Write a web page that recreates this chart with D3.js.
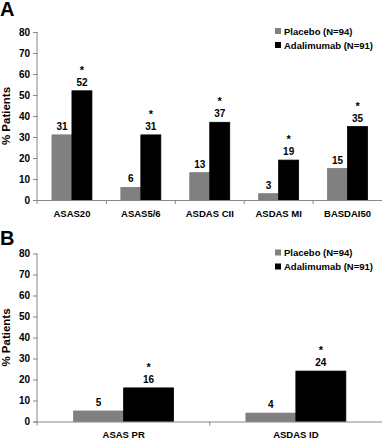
<!DOCTYPE html>
<html><head><meta charset="utf-8">
<script src="https://cdn.jsdelivr.net/npm/d3@7"></script>
<style>
html,body{margin:0;padding:0;background:#fff;}
svg{display:block;font-family:"Liberation Sans",Arial,sans-serif;font-weight:bold;}
</style></head>
<body><svg id="c" width="382" height="440"></svg>
<script>
const seriesNames = ["Placebo (N=94)", "Adalimumab (N=91)"];
const seriesColors = ["#808080", "#000000"];
const categoriesA = ["ASAS20", "ASAS5/6", "ASDAS CII", "ASDAS MI", "BASDAI50"];
const placeboA = [31, 6, 13, 3, 15];
const adalimumabA = [52, 31, 37, 19, 35];
const categoriesB = ["ASAS PR", "ASDAS ID"];
const placeboB = [5, 4];
const adalimumabB = [16, 24];
const yTicks = [0, 10, 20, 30, 40, 50, 60, 70, 80];
const yTitle = "% Patients";

const svg = d3.select("#c");

function panel(letter, top, cats, pl, ad, letterY) {
  const g = svg.append("g").attr("transform", `translate(0,${top})`);
  const left = 37.5, right = 382, y0 = 200, y80 = 32;
  const y = d3.scaleLinear().domain([0, 80]).range([y0, y80]);
  const x0 = d3.scaleBand().domain(cats).range([left, right]).padding(0);
  const bw = x0.bandwidth();
  const x1 = d3.scaleBand().domain(seriesNames).range([bw * 0.21, bw * 0.79]).padding(0);

  svg.append("text").attr("x", 0).attr("y", letterY).attr("font-size", 20)
     .attr("font-weight", "bold").text(letter);

  // y axis
  const ya = g.append("g").attr("transform", `translate(${left},0)`)
    .call(d3.axisLeft(y).tickValues(yTicks).tickSize(4.5).tickPadding(3));
  ya.select(".domain").attr("stroke", "#888").attr("d", `M-0.5,${y80}V${y0+4}`);
  ya.selectAll(".tick line").attr("stroke", "#888");
  ya.selectAll(".tick text").attr("font-size", 10).attr("font-weight", "bold")
    .attr("font-family", "Liberation Sans, Arial, sans-serif").attr("fill", "#000");

  g.append("text").attr("transform", `translate(9.5,${(y0 + y80) / 2}) rotate(-90)`)
    .attr("text-anchor", "middle").attr("font-size", 11.5).text(yTitle);

  // bars
  const data = cats.map((c, i) => ({ c, vals: [pl[i], ad[i]] }));
  const grp = g.selectAll(".grp").data(data).enter().append("g")
    .attr("transform", d => `translate(${x0(d.c)},0)`);
  grp.selectAll("rect").data(d => d.vals.map((v, k) => ({ v, k })))
    .enter().append("rect")
    .attr("x", d => x1(seriesNames[d.k]))
    .attr("width", x1.bandwidth())
    .attr("y", d => y(d.v))
    .attr("height", d => y(0) - y(d.v))
    .attr("fill", d => seriesColors[d.k])
    .attr("stroke", d => d.k === 0 ? "#7a7a7a" : "#000").attr("stroke-width", 0.8);
  grp.selectAll(".val").data(d => d.vals.map((v, k) => ({ v, k })))
    .enter().append("text")
    .attr("x", d => x1(seriesNames[d.k]) + x1.bandwidth() / 2)
    .attr("y", d => y(d.v) - 5)
    .attr("text-anchor", "middle").attr("font-size", 10).text(d => d.v);
  grp.append("text")
    .attr("x", x1(seriesNames[1]) + x1.bandwidth() / 2)
    .attr("y", d => y(d.vals[1]) - 17)
    .attr("text-anchor", "middle").attr("font-size", 11).text("*");

  // x axis
  const xa = g.append("g").attr("transform", `translate(0,${y0})`)
    .call(d3.axisBottom(x0).tickSize(0).tickPadding(10));
  xa.select(".domain").attr("stroke", "#888").attr("d", `M${left - 4},0.5H${right}`);
  xa.selectAll(".tick text").attr("font-size", 9.5).attr("font-weight", "bold")
    .attr("font-family", "Liberation Sans, Arial, sans-serif").attr("fill", "#000");
  g.selectAll(".bnd").data(cats.slice(1)).enter().append("line")
    .attr("x1", d => x0(d)).attr("x2", d => x0(d))
    .attr("y1", y0).attr("y2", y0 + 4).attr("stroke", "#888");

  // legend
  const lg = g.append("g").attr("transform", "translate(275,0)");
  seriesNames.forEach((s, k) => {
    lg.append("rect").attr("x", 0).attr("y", 28 + k * 14).attr("width", 6).attr("height", 6)
      .attr("fill", seriesColors[k]);
    lg.append("text").attr("x", 9).attr("y", 34.5 + k * 14).attr("font-size", 9.5).text(s);
  });
}

panel("A", 0, categoriesA, placeboA, adalimumabA, 16);
panel("B", 221.5, categoriesB, placeboB, adalimumabB, 245);
</script></body></html>
